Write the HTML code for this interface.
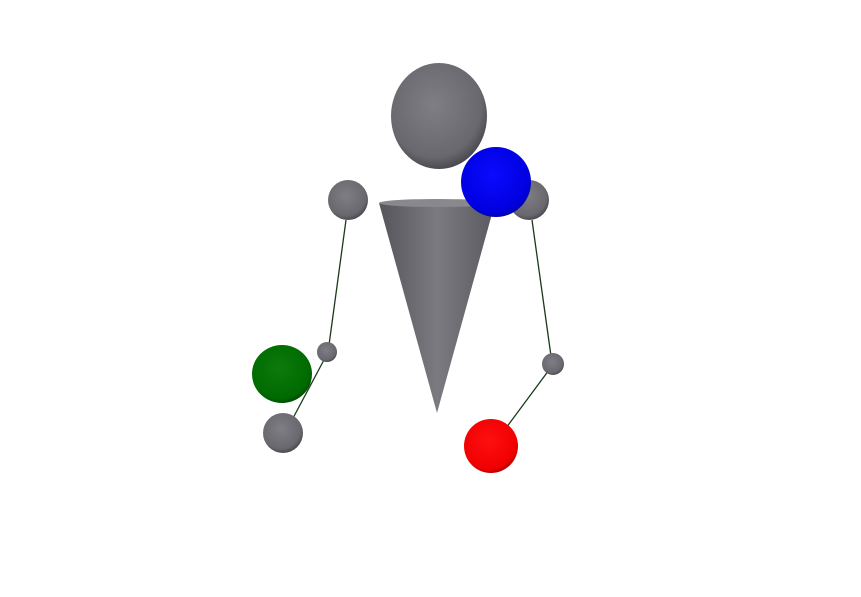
<!DOCTYPE html>
<html><head><meta charset="utf-8"><style>html,body{margin:0;padding:0;background:#fff;}svg{display:block}</style></head>
<body>
<svg width="861" height="597" viewBox="0 0 861 597">
<defs>
<radialGradient id="g" cx="0.45" cy="0.4" r="0.65"><stop offset="0" stop-color="#7e7e84"/><stop offset="0.75" stop-color="#68686e"/><stop offset="1" stop-color="#3e3e44"/></radialGradient>
<radialGradient id="b" cx="0.45" cy="0.4" r="0.65"><stop offset="0" stop-color="#0a0aff"/><stop offset="0.8" stop-color="#0000e0"/><stop offset="1" stop-color="#00009a"/></radialGradient>
<radialGradient id="gr" cx="0.45" cy="0.4" r="0.65"><stop offset="0" stop-color="#0c7a0c"/><stop offset="0.8" stop-color="#006a00"/><stop offset="1" stop-color="#003e00"/></radialGradient>
<radialGradient id="r" cx="0.45" cy="0.4" r="0.65"><stop offset="0" stop-color="#ff1010"/><stop offset="0.8" stop-color="#f00000"/><stop offset="1" stop-color="#a00000"/></radialGradient>
<linearGradient id="cone" x1="0" x2="1" y1="0" y2="0"><stop offset="0" stop-color="#55555b"/><stop offset="0.5" stop-color="#7a7a80"/><stop offset="1" stop-color="#5a5a60"/></linearGradient>
</defs>
<g stroke="#1a3a1a" stroke-width="1.3">
<line x1="346" y1="220" x2="329" y2="345"/>
<line x1="325" y1="358" x2="292" y2="420"/>
<line x1="532" y1="220" x2="551" y2="356"/>
<line x1="549" y1="370" x2="506" y2="428"/>
</g>
<ellipse cx="439" cy="116" rx="48" ry="53" fill="url(#g)"/>
<path d="M379 203 L495 203 L437 413 Z" fill="url(#cone)"/>
<ellipse cx="437" cy="203" rx="58" ry="4" fill="#88888e"/>
<circle cx="348" cy="200" r="20" fill="url(#g)"/>
<circle cx="529" cy="200" r="20" fill="url(#g)"/>
<circle cx="496" cy="182" r="35" fill="url(#b)"/>
<circle cx="327" cy="352" r="10" fill="url(#g)"/>
<circle cx="553" cy="364" r="11" fill="url(#g)"/>
<ellipse cx="283" cy="433" rx="20" ry="20" fill="url(#g)"/>
<ellipse cx="282" cy="374" rx="30" ry="29" fill="url(#gr)"/>
<circle cx="491" cy="446" r="27" fill="url(#r)"/>
</svg>
</body></html>
